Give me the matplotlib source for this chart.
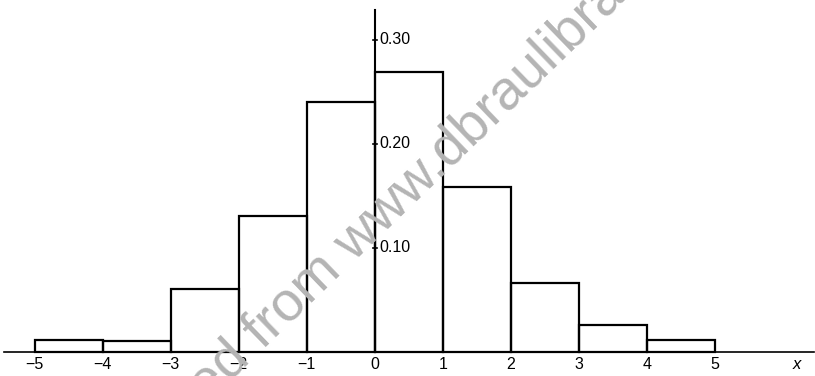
import matplotlib
matplotlib.use('Agg')
import matplotlib.pyplot as plt

plt.rcParams['font.family'] = ['Liberation Sans', 'DejaVu Sans']

# 直方图数据：区间边界和各区间的相对频率
bin_edges = [-5, -4, -3, -2, -1, 0, 1, 2, 3, 4, 5]
freqs = [0.012, 0.011, 0.061, 0.131, 0.240, 0.269, 0.158, 0.066, 0.026, 0.012]
x_ticks = [-5, -4, -3, -2, -1, 0, 1, 2, 3, 4, 5]
y_ticks = [0.10, 0.20, 0.30]
y_tick_labels = ['0.10', '0.20', '0.30']

fig = plt.figure(figsize=(8.15, 3.76), dpi=100)
ax = fig.add_axes([0, 0, 1, 1])
ax.set_xlim(-5.51, 6.47)
ax.set_ylim(-0.023, 0.338)
ax.axis('off')

# 水印
fig.text(0.025, -0.503, 'Downloaded from www.dbraulibrary.org.in', color='#b4b4b4',
         fontsize=40, rotation=44, rotation_mode='anchor', ha='left', va='center',
         zorder=0)

# 坐标轴
ax.plot([-5.45, 6.45], [0, 0], color='black', lw=1.2)
ax.plot([0, 0], [0, 0.328], color='black', lw=1.5)

# 直方条
ax.bar(bin_edges[:-1], freqs, width=1, align='edge', fill=False,
       edgecolor='black', linewidth=1.6)

# 刻度和标签
for v in x_ticks:
    label = str(v).replace('-', '\u2212')
    ax.text(v, -0.0115, label, ha='center', va='center', fontsize=11.5)
ax.text(6.2, -0.0115, 'x', ha='center', va='center', fontsize=12, style='italic')

for v, lab in zip(y_ticks, y_tick_labels):
    ax.plot([-0.03, 0.03], [v, v], color='black', lw=1.2)
    ax.text(0.07, v, lab, ha='left', va='center', fontsize=11.5)

fig.savefig('out.png', dpi=100)
